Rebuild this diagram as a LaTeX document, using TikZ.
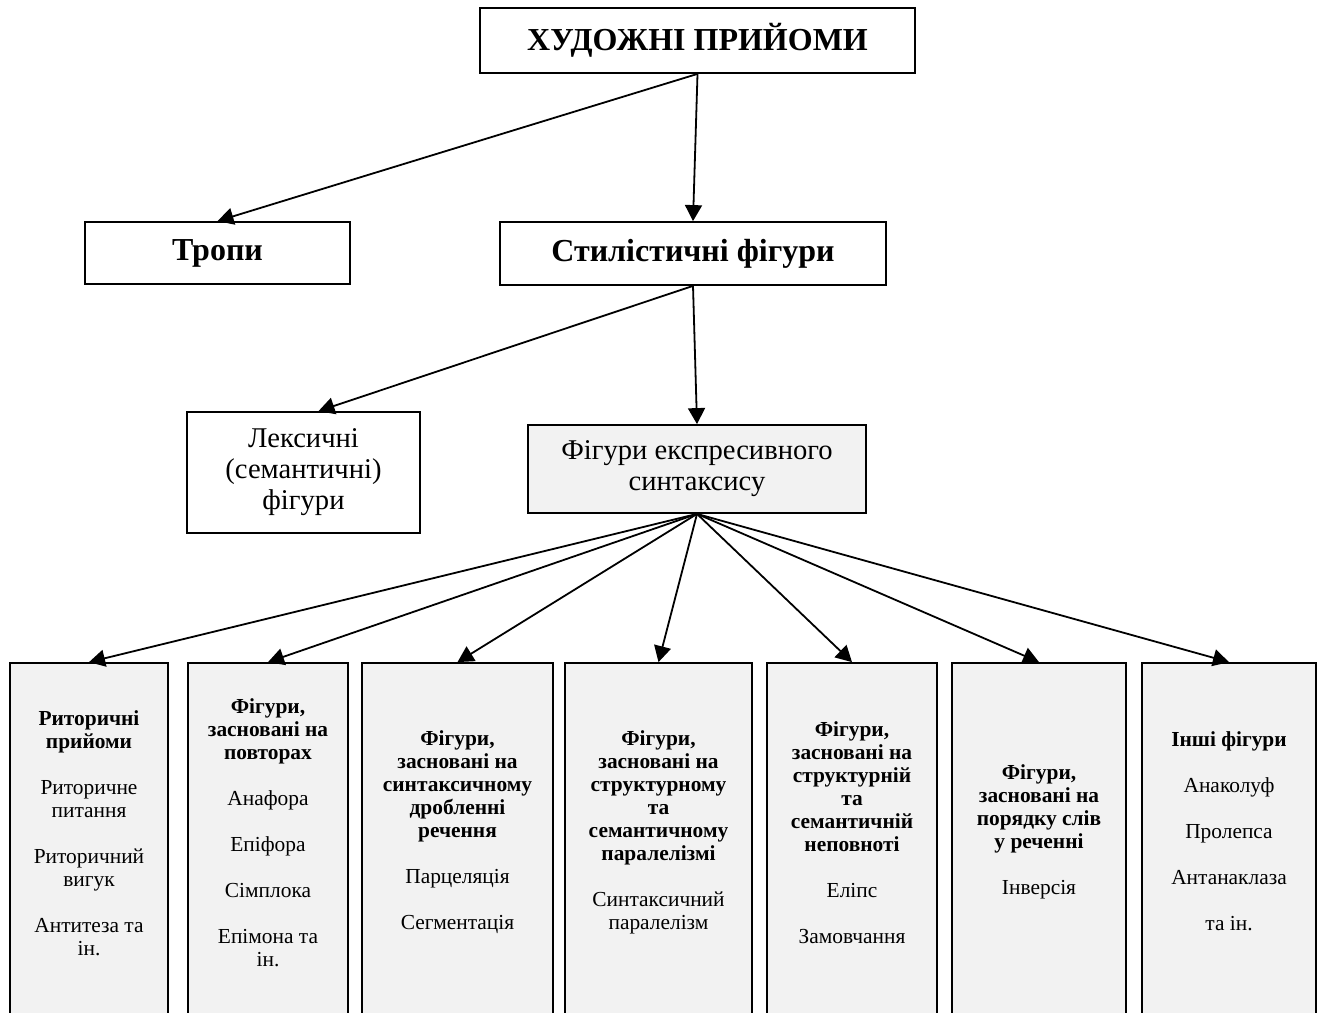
\documentclass[tikz,border=0pt]{standalone}
\usepackage{fontspec}
\setmainfont{Liberation Serif}
\usepackage{xcolor}
\usetikzlibrary{arrows.meta, positioning}
\definecolor{boxGray}{HTML}{F2F2F2}
\tikzset{
    headBox/.style={draw=black, line width=0.9pt, fill=white, inner sep=0pt, font=\bfseries\fontsize{16}{19}\selectfont},
    plainBox/.style={draw=black, line width=0.9pt, fill=white, inner sep=0pt, align=center, font=\fontsize{14.3}{15.5}\selectfont},
    colBox/.style={draw=black, line width=0.9pt, fill=boxGray, inner sep=0pt, minimum height=183.5pt},
    colText/.style={align=center, inner sep=0pt, font=\fontsize{10.7}{11.5}\selectfont},
    linkArrow/.style={-{Triangle[length=8pt, width=8.5pt]}, line width=0.9pt}
}

\begin{document}
\begin{tikzpicture}[x=0.5pt, y=-0.5pt]
    \useasboundingbox (0,0) rectangle (1320,1012);
    % --- upper levels ---
    \node[headBox, minimum width=217.5pt, minimum height=32.5pt] (art) at (697.5,40.5) {ХУДОЖНІ ПРИЙОМИ};
    \node[headBox, minimum width=132.5pt, minimum height=31pt] (tropes) at (217.5,253) {Тропи};
    \node[headBox, minimum width=193pt, minimum height=31.5pt] (stylfig) at (693,253.5) {Стилістичні фігури};
    \node[plainBox, minimum width=116.5pt, minimum height=60.5pt] (lexfig) at (303.5,472.5) {Лексичні\\(семантичні)\\фігури};
    \node[plainBox, fill=boxGray, minimum width=169pt, minimum height=44pt] (exprsyn) at (697,469) {Фігури експресивного\\синтаксису};
    \draw[linkArrow] (art.south) -- (tropes.north);
    \draw[linkArrow] (art.south) -- (stylfig.north);
    \draw[linkArrow] (stylfig.south) -- ([xshift=7.5pt]lexfig.north);
    \draw[linkArrow] (stylfig.south) -- (exprsyn.north);
    % --- columns ---
    \node[colBox, minimum width=79pt]   (colA) at (89,846.5) {};
    \node[colBox, minimum width=80pt]   (colB) at (268,846.5) {};
    \node[colBox, minimum width=95.5pt] (colC) at (457.5,846.5) {};
    \node[colBox, minimum width=93.5pt] (colD) at (658.5,846.5) {};
    \node[colBox, minimum width=85pt]   (colE) at (852,846.5) {};
    \node[colBox, minimum width=87pt]   (colF) at (1039,846.5) {};
    \node[colBox, minimum width=87pt]   (colG) at (1229,846.5) {};
    \node[colText] (txtA) at (89,833) {\textbf{Риторичні}\\\textbf{прийоми}\\[11.5pt]Риторичне\\питання\\[11.5pt]Риторичний\\вигук\\[11.5pt]Антитеза та\\ін.};
    \node[colText] (txtB) at (268,833) {\textbf{Фігури,}\\\textbf{засновані на}\\\textbf{повторах}\\[11.5pt]Анафора\\[11.5pt]Епіфора\\[11.5pt]Сімплока\\[11.5pt]Епімона та\\ін.};
    \node[colText] (txtC) at (457.5,832) {\textbf{Фігури,}\\\textbf{засновані на}\\\textbf{синтаксичному}\\\textbf{дробленні}\\\textbf{речення}\\[11.5pt]Парцеляція\\[11.5pt]Сегментація};
    \node[colText] (txtD) at (658.5,832) {\textbf{Фігури,}\\\textbf{засновані на}\\\textbf{структурному}\\\textbf{та}\\\textbf{семантичному}\\\textbf{паралелізмі}\\[11.5pt]Синтаксичний\\паралелізм};
    \node[colText] (txtE) at (852,833) {\textbf{Фігури,}\\\textbf{засновані на}\\\textbf{структурній}\\\textbf{та}\\\textbf{семантичній}\\\textbf{неповноті}\\[11.5pt]Еліпс\\[11.5pt]Замовчання};
    \node[colText] (txtF) at (1039,831.5) {\textbf{Фігури,}\\\textbf{засновані на}\\\textbf{порядку слів}\\\textbf{у реченні}\\[11.5pt]Інверсія};
    \node[colText] (txtG) at (1229,831.5) {\textbf{Інші фігури}\\[11.5pt]Анаколуф\\[11.5pt]Пролепса\\[11.5pt]Антанаклаза\\[11.5pt]та ін.};
    \foreach \c in {colA,colB,colC,colD,colE,colF,colG}
        \draw[linkArrow] (exprsyn.south) -- (\c.north);
\end{tikzpicture}
\end{document}
